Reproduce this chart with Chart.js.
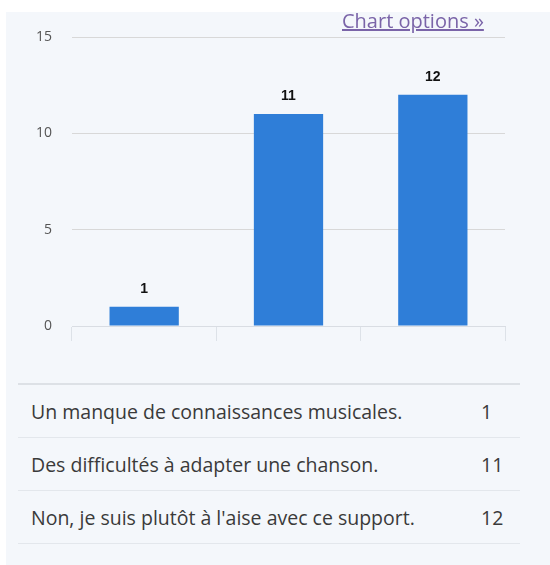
<!DOCTYPE html>
<html lang="fr">
<head>
    <meta charset="UTF-8">
    <title>Réponses</title>
    <script src="https://cdn.jsdelivr.net/npm/chart.js"></script>
    <style>
        html, body { margin: 0; padding: 0; background: #fff; }
        body { width: 550px; height: 565px; position: relative; overflow: hidden; font-family: "Open Sans", sans-serif; }
        .panel { position: absolute; left: 6px; top: 12px; width: 544px; height: 553px; background: #f4f7fb; }
        #chartWrap { position: absolute; left: 0; top: 0; width: 550px; height: 360px; }
        .opts { position: absolute; left: 342px; top: 7px; font-size: 20px; color: #7a64a8; text-decoration: underline; }
        table { position: absolute; left: 18px; top: 383px; width: 502px; border-collapse: collapse; border-top: 2px solid #dde1e6; }
        td { height: 52px; border-bottom: 1px solid #e3e7ec; font-size: 19.5px; color: #3a3a3a; padding: 0 0 0 13px; white-space: nowrap; }
        td.n { width: 39px; padding-left: 0; }
    </style>
</head>
<body>
    <div class="panel"></div>
    <div id="chartWrap"><canvas id="chart"></canvas></div>
    <a class="opts">Chart options »</a>
    <table>
        <tbody id="rows"></tbody>
    </table>

    <script>
const answers = [
    "Un manque de connaissances musicales.",
    "Des difficultés à adapter une chanson.",
    "Non, je suis plutôt à l'aise avec ce support."
];
const counts = [1, 11, 12];
const yTicks = [0, 5, 10, 15];

// table under the chart
const rows = document.getElementById('rows');
answers.forEach((a, i) => {
    rows.innerHTML += `<tr><td>${a}</td><td class="n">${counts[i]}</td></tr>`;
});

// value labels above the bars
const barLabels = {
    id: 'barLabels',
    afterDatasetsDraw(chart) {
        const ctx = chart.ctx;
        ctx.save();
        ctx.font = 'bold 14px Arial, sans-serif';
        ctx.fillStyle = '#111';
        ctx.textAlign = 'center';
        ctx.textBaseline = 'middle';
        chart.getDatasetMeta(0).data.forEach((bar, i) => {
            ctx.fillText(counts[i], bar.x, bar.y - 18);
        });
        ctx.restore();
    }
};

new Chart(document.getElementById('chart'), {
    type: 'bar',
    data: {
        labels: answers,
        datasets: [{
            data: counts,
            backgroundColor: '#2f7ed8',
            categoryPercentage: 1,
            barPercentage: 0.48
        }]
    },
    options: {
        responsive: true,
        maintainAspectRatio: false,
        animation: false,
        layout: { padding: { top: 37, right: 45, bottom: 19, left: 0 } },
        plugins: { legend: { display: false }, tooltip: { enabled: false } },
        scales: {
            x: {
                grid: { offset: true, drawOnChartArea: false, drawTicks: true, tickLength: 15, color: '#dde2e8' },
                border: { color: '#d9dde3' },
                ticks: { display: false },
                afterFit(s) { s.height = 15; }
            },
            y: {
                min: 0,
                max: 15,
                afterBuildTicks(s) { s.ticks = yTicks.map(v => ({ value: v })); },
                grid: { color: '#d8d8d8', drawTicks: false },
                border: { display: false },
                ticks: { padding: 20, color: '#555', font: { family: 'Open Sans', size: 14 } },
                afterFit(s) { s.width = 72; }
            }
        }
    },
    plugins: [barLabels]
});
    </script>
</body>
</html>
